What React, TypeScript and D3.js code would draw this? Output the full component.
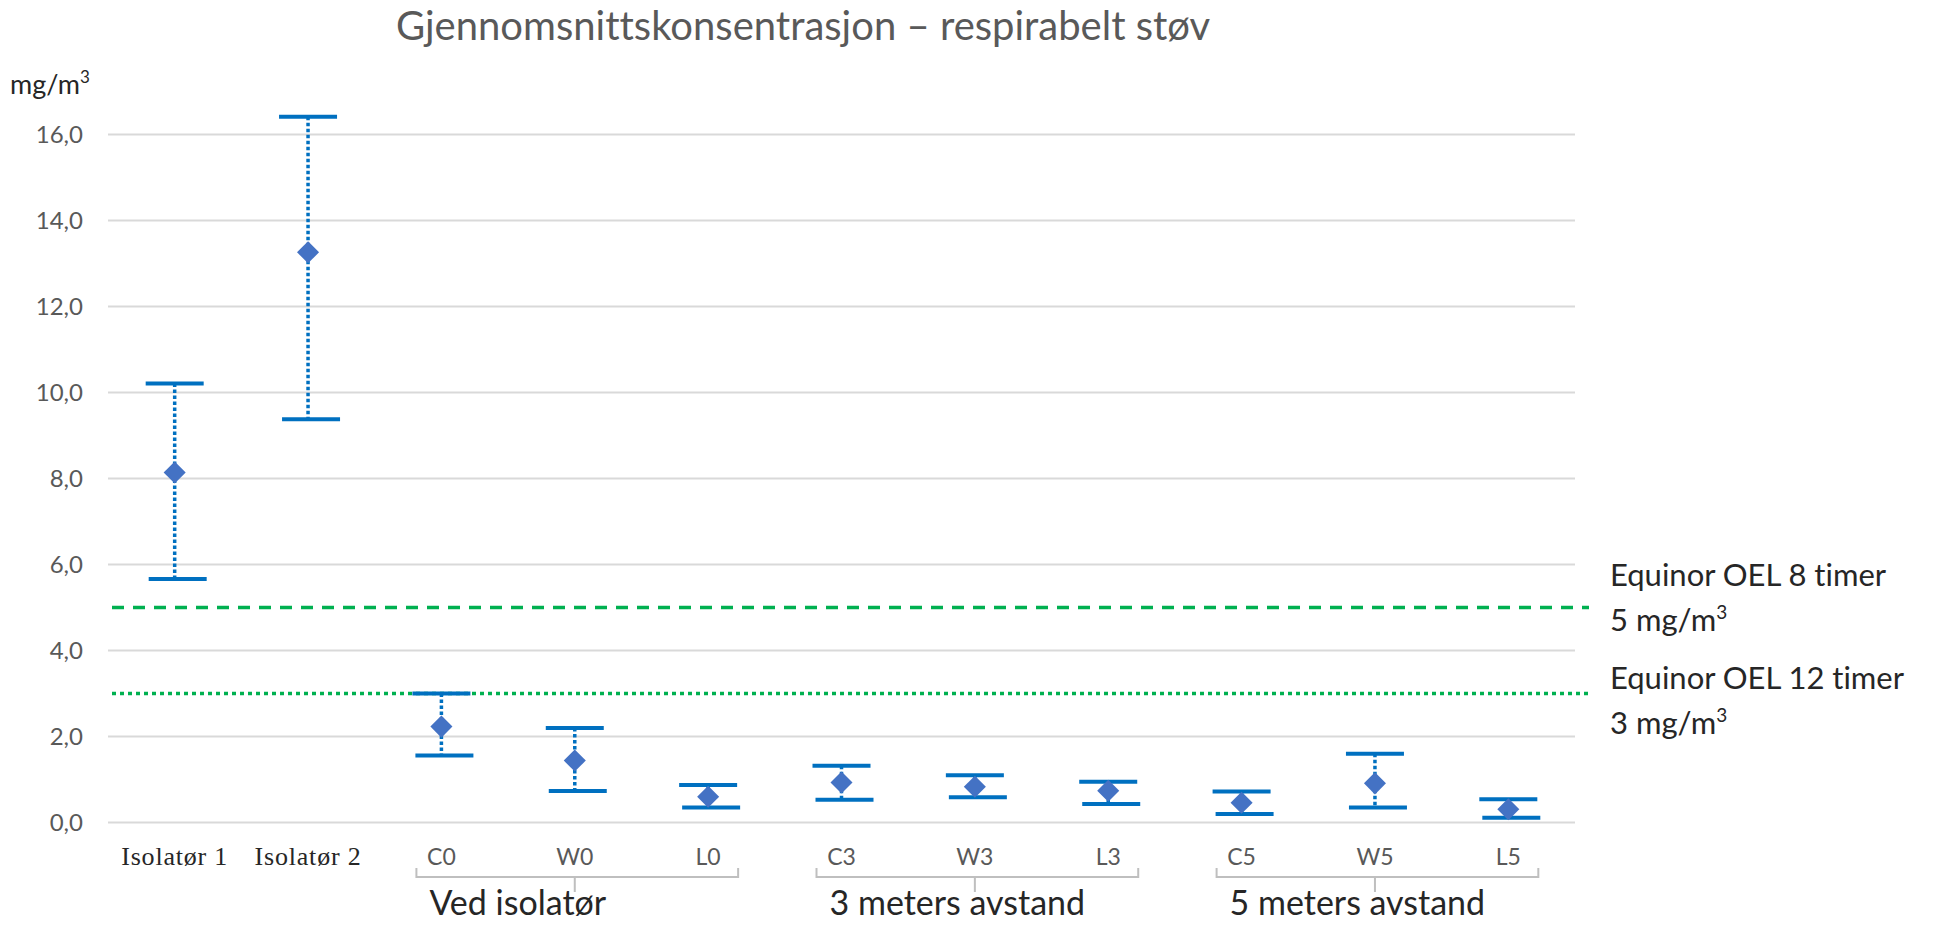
import React from 'react';
import * as d3 from 'd3';

const categories = ['Isolatør 1', 'Isolatør 2', 'C0', 'W0', 'L0', 'C3', 'W3', 'L3', 'C5', 'W5', 'L5'];
const means = [8.14, 13.26, 2.23, 1.44, 0.6, 0.93, 0.83, 0.74, 0.46, 0.91, 0.31];
const upper = [10.21, 16.41, 3.0, 2.2, 0.87, 1.32, 1.1, 0.95, 0.72, 1.6, 0.54];
const lower = [5.66, 9.38, 1.56, 0.73, 0.35, 0.53, 0.59, 0.43, 0.2, 0.35, 0.11];

const groupLabels = ['Ved isolatør', '3 meters avstand', '5 meters avstand'];
const groupMembers = [['C0', 'W0', 'L0'], ['C3', 'W3', 'L3'], ['C5', 'W5', 'L5']];

const yTicks = [0, 2, 4, 6, 8, 10, 12, 14, 16];

const limitValues = [5, 3];
const limitLabels = [['Equinor OEL 8 timer', '5 mg/m'], ['Equinor OEL 12 timer', '3 mg/m']];

const title = 'Gjennomsnittskonsentrasjon – respirabelt støv';
const unitLabel = 'mg/m';

const width = 1936;
const height = 927;
const margin = { top: 134, right: 361, bottom: 105, left: 108 };

export default function App() {
  const x = d3.scaleBand<string>()
    .domain(categories)
    .range([margin.left, width - margin.right]);
  const cx = (c: string) => (x(c) ?? 0) + x.bandwidth() / 2;

  // 16 is the top gridline; the Isolatør 2 bar runs above it
  const y = d3.scaleLinear()
    .domain([0, 16])
    .range([height - margin.bottom + 0.5, margin.top + 0.5]);

  const diamond = d3.symbol(d3.symbolDiamond2, 310)();
  const font = 'Lato, "Open Sans", sans-serif';
  const capW = 58;
  const plotL = margin.left;
  const plotR = width - margin.right;
  // the two annotation blocks do not sit at the same offset from their lines
  const labelDy = [-22, -5];

  return (
    <svg width={width} height={height}
      style={{ position: 'absolute', left: 0, top: 0, background: '#fff', fontVariantLigatures: 'none' }}>
      <text x={803} y={40} textAnchor="middle" fontFamily={font} fontSize={40} fill="#595959">{title}</text>
      <text x={10} y={94} fontFamily={font} fontSize={27} fill="#262626">
        {unitLabel}<tspan fontSize={17} dy={-11}>3</tspan>
      </text>

      {/* gridlines + y labels */}
      <g>
        {yTicks.map(t => (
          <g key={t}>
            <line x1={plotL} x2={plotR} y1={y(t)} y2={y(t)} stroke="#d9d9d9" strokeWidth={2} />
            <text x={83} y={y(t)} dy="0.36em" textAnchor="end" fontFamily={font} fontSize={24} fill="#595959">
              {d3.format('.1f')(t).replace('.', ',')}
            </text>
          </g>
        ))}
      </g>

      {/* limit lines */}
      <line x1={plotL + 4} x2={plotR + 14} y1={y(limitValues[0])} y2={y(limitValues[0])}
        stroke="#00b050" strokeWidth={3.5} strokeDasharray="12,9" />
      <line x1={plotL + 4} x2={plotR + 16} y1={y(limitValues[1])} y2={y(limitValues[1])}
        stroke="#00b050" strokeWidth={3.5} strokeDasharray="4,4" />
      {limitValues.map((v, i) => (
        <text key={v} x={1610} y={y(v) + labelDy[i]} fontFamily={font} fontSize={31} fill="#262626">
          <tspan x={1610}>{limitLabels[i][0]}</tspan>
          <tspan x={1610} dy={45}>{limitLabels[i][1]}</tspan>
          <tspan fontSize={19} dy={-12}>3</tspan>
        </text>
      ))}

      {/* error bars */}
      {categories.map((c, i) => (
        <g key={c}>
          <line x1={cx(c)} x2={cx(c)} y1={y(upper[i])} y2={y(lower[i])}
            stroke="#0070c0" strokeWidth={3.5} strokeDasharray="3.5,2.5" />
          <line x1={cx(c) - capW / 2} x2={cx(c) + capW / 2} y1={y(upper[i])} y2={y(upper[i])}
            stroke="#0070c0" strokeWidth={4} />
          <line x1={cx(c) - capW / 2 + 3} x2={cx(c) + capW / 2 + 3} y1={y(lower[i])} y2={y(lower[i])}
            stroke="#0070c0" strokeWidth={4} />
          <path d={diamond ?? ''} transform={`translate(${cx(c)},${y(means[i])})`} fill="#4472c4" />
        </g>
      ))}

      {/* category labels */}
      {categories.map(c => {
        const grouped = groupMembers.some(g => g.includes(c));
        return (
          <text key={c} x={cx(c)} y={865} textAnchor="middle"
            fontFamily={grouped ? font : '"Liberation Serif", serif'}
            fontSize={grouped ? 23 : 26}
            letterSpacing={grouped ? 0 : 0.8}
            fill={grouped ? '#595959' : '#262626'}>
            {c}
          </text>
        );
      })}

      {/* group brackets */}
      {groupMembers.map((g, i) => {
        const a = cx(g[0]) - 25;
        const b = cx(g[g.length - 1]) + 30;
        const m = cx(g[Math.floor(g.length / 2)]);
        return (
          <g key={groupLabels[i]}>
            <path d={`M${a},868 V877 H${b} V868 M${m},877 V892`} fill="none" stroke="#bfbfbf" strokeWidth={2} />
            <text x={cx(g[0]) - 12} y={915} fontFamily={font} fontSize={34} fill="#262626">{groupLabels[i]}</text>
          </g>
        );
      })}
    </svg>
  );
}
